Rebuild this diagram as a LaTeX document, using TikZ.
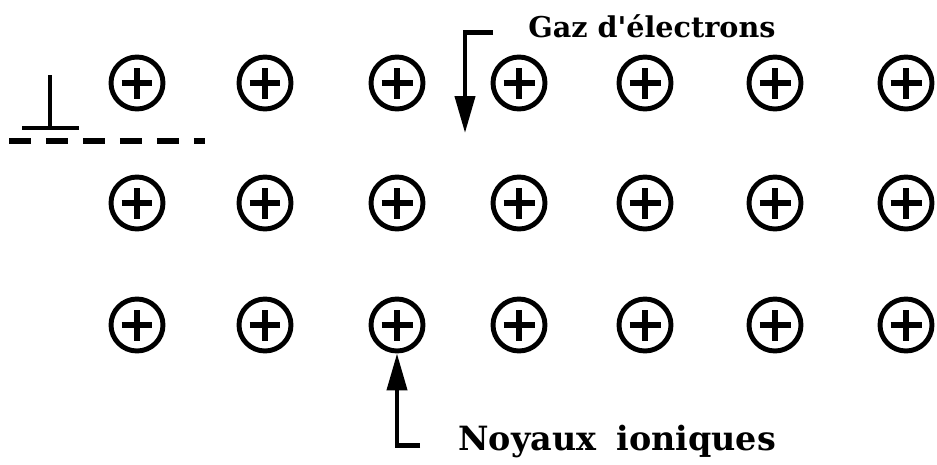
\documentclass[tikz,border=0pt]{standalone}
\usepackage{fontspec}
\setmainfont{DejaVu Serif}
\usetikzlibrary{arrows.meta}

\begin{document}
\begin{tikzpicture}[x=0.02cm,y=-0.02cm,>={Triangle[length=0.74cm,width=0.4cm]},
  ion/.style={circle,draw,line width=2.8pt,minimum size=1.04cm,inner sep=0pt,
    path picture={\draw[line width=3pt]
      ([xshift=-0.31cm]path picture bounding box.center) -- ([xshift=0.31cm]path picture bounding box.center)
      ([yshift=-0.31cm]path picture bounding box.center) -- ([yshift=0.31cm]path picture bounding box.center);}},
  pointer/.style={->,line width=2.4pt},
  tag/.style={inner sep=0pt,font=\bfseries}]
\useasboundingbox (0,0) rectangle (937,464);
% lattice of ions
\foreach \y [count=\r] in {83,203,325}
  \foreach \x [count=\c] in {137,265,397,519,645,775,906}
    \node[ion] (i-\r-\c) at (\x,\y) {};
% ground symbol and dashed line
\draw[line width=2.6pt] (50,75) -- (50,128);
\draw[line width=2.8pt] (22,128) -- (79,128);
\draw[line width=3pt,dash pattern=on 0.44cm off 0.3cm] (9,141) -- (205,141);
% labels
\node[tag,anchor=base west,font=\bfseries\fontsize{16.3}{19}\selectfont] (gaz) at (528,37) {Gaz d\textquotesingle électrons};
\coordinate (gaz-tip) at (465,133);
\draw[pointer] ([xshift=-0.7cm]gaz.mid west) -| (gaz-tip);
\node[tag,anchor=base west,font=\bfseries\fontsize{19}{22}\selectfont] (noy) at (458,450) {Noyaux\hspace{0.6em}ioniques};
\draw[pointer] ([xshift=-0.76cm]noy.mid west) -| (i-3-3.south);
\end{tikzpicture}
\end{document}
